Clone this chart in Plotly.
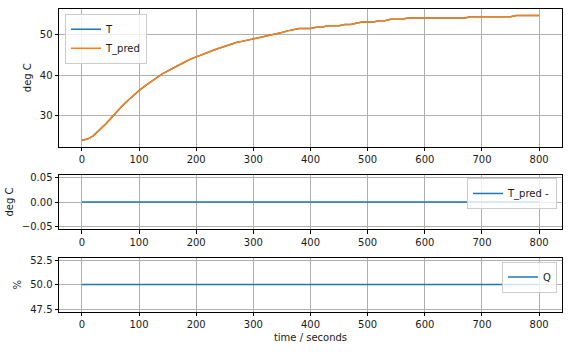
import plotly.graph_objects as go
from plotly.subplots import make_subplots

# ---- data ----
time_s = [0, 10, 20, 30, 40, 50, 60, 70, 80, 90,
          100, 110, 120, 130, 140, 150, 160, 170, 180, 190,
          200, 210, 220, 230, 240, 250, 260, 270, 280, 290,
          300, 310, 320, 330, 340, 350, 360, 370, 380, 390,
          400, 410, 420, 430, 440, 450, 460, 470, 480, 490,
          500, 510, 520, 530, 540, 550, 560, 570, 580, 590,
          600, 610, 620, 630, 640, 650, 660, 670, 680, 690,
          700, 710, 720, 730, 740, 750, 760, 770, 780, 790, 800]

T = [23.9, 24.2, 25.0, 26.3, 27.7, 29.2, 30.8, 32.3, 33.7, 35.0,
     36.2, 37.3, 38.4, 39.3, 40.3, 41.1, 41.9, 42.6, 43.3, 44.0,
     44.6, 45.2, 45.7, 46.2, 46.7, 47.2, 47.7, 48.1, 48.4, 48.7,
     49.0, 49.4, 49.7, 50.0, 50.3, 50.6, 51.0, 51.3, 51.6, 51.6,
     51.6, 51.9, 51.9, 52.3, 52.3, 52.3, 52.6, 52.6, 52.9, 53.2,
     53.2, 53.2, 53.5, 53.5, 53.9, 53.9, 53.9, 54.2, 54.2, 54.2,
     54.2, 54.2, 54.2, 54.2, 54.2, 54.2, 54.2, 54.2, 54.5, 54.5,
     54.5, 54.5, 54.5, 54.5, 54.5, 54.5, 54.8, 54.8, 54.8, 54.8, 54.8]

T_pred = [23.9, 24.2, 25.0, 26.3, 27.7, 29.2, 30.8, 32.3, 33.7, 35.0,
          36.2, 37.3, 38.4, 39.3, 40.3, 41.1, 41.9, 42.6, 43.3, 44.0,
          44.6, 45.2, 45.7, 46.2, 46.7, 47.2, 47.7, 48.1, 48.4, 48.7,
          49.0, 49.4, 49.7, 50.0, 50.3, 50.6, 51.0, 51.3, 51.6, 51.6,
          51.6, 51.9, 51.9, 52.3, 52.3, 52.3, 52.6, 52.6, 52.9, 53.2,
          53.2, 53.2, 53.5, 53.5, 53.9, 53.9, 53.9, 54.2, 54.2, 54.2,
          54.2, 54.2, 54.2, 54.2, 54.2, 54.2, 54.2, 54.2, 54.5, 54.5,
          54.5, 54.5, 54.5, 54.5, 54.5, 54.5, 54.8, 54.8, 54.8, 54.8, 54.8]

err_time = [0, 800]
err_vals = [0.0, 0.0]
Q_time = [0, 800]
Q_vals = [50.0, 50.0]

x_ticks = [0, 100, 200, 300, 400, 500, 600, 700, 800]

# ---- figure ----
W, H = 568, 352
fig = go.Figure()

BLUE = "#1f77b4"
ORANGE = "#ff7f0e"
FONT = "DejaVu Sans"

fig.add_trace(go.Scatter(x=time_s, y=T, mode="lines", name="T",
                         line=dict(color=BLUE, width=1.5),
                         xaxis="x", yaxis="y", legend="legend"))
fig.add_trace(go.Scatter(x=time_s, y=T_pred, mode="lines", name="T_pred",
                         line=dict(color=ORANGE, width=1.5),
                         xaxis="x", yaxis="y", legend="legend"))
fig.add_trace(go.Scatter(x=err_time, y=err_vals, mode="lines", name="T_pred -",
                         line=dict(color=BLUE, width=1.5),
                         xaxis="x2", yaxis="y2", legend="legend2"))
fig.add_trace(go.Scatter(x=Q_time, y=Q_vals, mode="lines", name="Q",
                         line=dict(color=BLUE, width=1.5),
                         xaxis="x3", yaxis="y3", legend="legend3"))

xdom = [59 / W, 562 / W]
def ydom(top, bot):
    return [1 - bot / H, 1 - top / H]

common_axis = dict(showline=True, mirror=True, linecolor="black", linewidth=1,
                   ticks="outside", ticklen=3.5, tickwidth=0.8, tickcolor="black",
                   showgrid=True, gridcolor="#b0b0b0", gridwidth=0.8,
                   zeroline=False, tickfont=dict(family=FONT, size=10, color="#1a1a1a"))

xa = dict(common_axis, range=[-40, 840], tickvals=x_ticks, domain=xdom)

fig.update_layout(
    width=W, height=H, autosize=False,
    margin=dict(l=0, r=0, t=0, b=0),
    paper_bgcolor="white", plot_bgcolor="white",
    font=dict(family=FONT, size=10, color="#1a1a1a"),
    showlegend=True,
    xaxis=dict(xa, anchor="y"),
    xaxis2=dict(xa, anchor="y2"),
    xaxis3=dict(xa, anchor="y3",
                title=dict(text="time / seconds", font=dict(family=FONT, size=10), standoff=4)),
    yaxis=dict(common_axis, domain=ydom(6, 146), anchor="x", range=[22.35, 56.45],
               tickvals=[30, 40, 50],
               title=dict(text="deg C", font=dict(family=FONT, size=10), standoff=6)),
    yaxis2=dict(common_axis, domain=ydom(175, 230), anchor="x2", range=[-0.055, 0.055],
                tickvals=[-0.05, 0, 0.05], tickformat=".2f",
                title=dict(text="deg C", font=dict(family=FONT, size=10), standoff=6)),
    yaxis3=dict(common_axis, domain=ydom(259, 314), anchor="x3", range=[47.25, 52.75],
                tickvals=[47.5, 50, 52.5], tickformat=".1f",
                title=dict(text="%", font=dict(family=FONT, size=10), standoff=6)),
    legend=dict(x=65 / W, y=1 - 11 / H, xanchor="left", yanchor="top",
                bgcolor="rgba(255,255,255,0.8)", bordercolor="#cccccc", borderwidth=1,
                font=dict(family=FONT, size=10), tracegroupgap=0),
    legend2=dict(x=557 / W, y=1 - 178 / H, xanchor="right", yanchor="top",
                 bgcolor="rgba(255,255,255,0.8)", bordercolor="#cccccc", borderwidth=1,
                 font=dict(family=FONT, size=10)),
    legend3=dict(x=557 / W, y=1 - 263 / H, xanchor="right", yanchor="top",
                 bgcolor="rgba(255,255,255,0.8)", bordercolor="#cccccc", borderwidth=1,
                 font=dict(family=FONT, size=10)),
)

fig.write_html("out.html")
